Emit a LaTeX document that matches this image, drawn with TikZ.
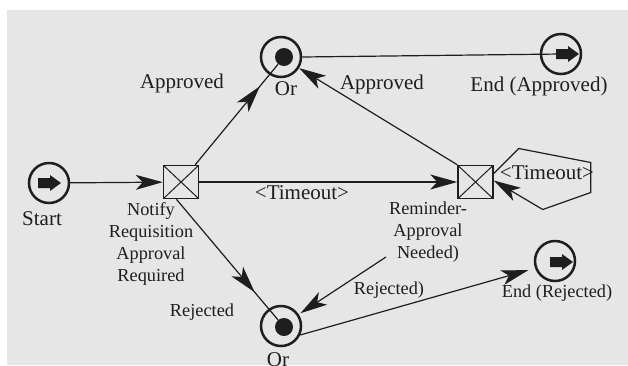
\documentclass[tikz,border=0pt]{standalone}
\usepackage{fontspec}
\setmainfont{Liberation Serif}
\usetikzlibrary{arrows.meta,decorations.markings}

\definecolor{bgc}{HTML}{E6E6E6}
\definecolor{ink}{HTML}{1E1E1E}

% filled block arrow used inside start/end events
\newcommand{\blockarrow}[1]{\fill[ink] (#1) ++(-12,-5) -- ++(12,0) -- ++(0,-3) -- ++(11,8) -- ++(-11,8) -- ++(0,-3) -- ++(-12,0) -- cycle;}

\tikzset{
  event/.style={circle, draw=ink, line width=2.5pt, minimum size=40pt, inner sep=0pt},
  dot/.style={circle, fill=ink, minimum size=18pt, inner sep=0pt},
  gate/.style={draw=ink, line width=1.5pt, minimum width=35pt, minimum height=33pt, inner sep=0pt,
    path picture={\draw[ink, line width=1pt] (path picture bounding box.north west) -- (path picture bounding box.south east)
      (path picture bounding box.north east) -- (path picture bounding box.south west);}},
  tip/.tip={Stealth[length=27pt,width=15pt,inset=7pt]},
  link/.style={ink, line width=1.2pt},
  flow/.style={link, -tip},
  midflow/.style={link, postaction={decorate},
    decoration={markings, mark=at position #1 with {\arrow{tip}}}},
  big/.style={text=ink, font=\fontsize{21}{24}\selectfont},
  small/.style={text=ink, align=center, font=\fontsize{18.3}{22}\selectfont},
}

\begin{document}
\begin{tikzpicture}[x=1pt,y=-1pt]
\useasboundingbox (0,0) rectangle (628,365);
\fill[bgc] (7,10) rectangle (628,365);

% events and gates
\node[event] (start) at (49,183) {};
\node[gate] (notify) at (181,182) {};
\node[gate] (reminder) at (475.5,182) {};
\node[event] (orTop) at (281,57) {};
\node[dot] (orTopDot) at (284,57) {};
\node[event] (botOr) at (281,326) {};
\node[dot] (botOrDot) at (284,327) {};
\node[event] (endA) at (561,54) {};
\node[event] (endR) at (555,261) {};
\coordinate (remTail) at (386,257);

% labels
\node[big] (lblStart) at (42,219) {Start};
\node[small] (lblNotify) at (151,244) {Notify\\Requisition\\Approval\\Required};
\node[big] (lblOrTop) at (286,89) {Or};
\node[big] (lblEndA) at (539,86) {End (Approved)};
\node[big] (lblAppL) at (182,83) {Approved};
\node[big] (lblAppR) at (382,84) {Approved};
\node[big] (lblTimeM) at (302,193) {<Timeout>};
\node[big] (lblTimeR) at (547,173) {<Timeout>};
\node[small] (lblRem) at (428,232) {Reminder-\\Approval\\Needed)};
\node[small] (lblRejR) at (389,290) {Rejected)};
\node[small] (lblRejL) at (202,312) {Rejected};
\node[small] (lblEndR) at (557,293) {End (Rejected)};
\node[big] (lblOrBot) at (278,360) {Or};

% connectors
\draw[flow] (start) -- (notify);
\draw[midflow=0.78] (notify) -- (orTopDot);
\draw[flow] (notify) -- (reminder);
\draw[midflow=0.77] (notify.-105) -- (botOrDot);
\draw[flow] (reminder.north west) -- (orTop);
\draw[link] (orTop.east) -- (endA.center);
\draw[flow] ([yshift=8.5pt]reminder.east) -- ++(25,-25) -- ++(72,14) -- ++(0,30) -- ++(-48,17) -- ([yshift=1.5pt]reminder.east);
\draw[flow, shorten >=2pt] (remTail) -- (botOr);
\draw[flow, shorten >=7pt] (botOr.-25) -- (endR.200);

% block arrows
\blockarrow{50,183}
\blockarrow{568,54}
\blockarrow{562,262}
\end{tikzpicture}
\end{document}
